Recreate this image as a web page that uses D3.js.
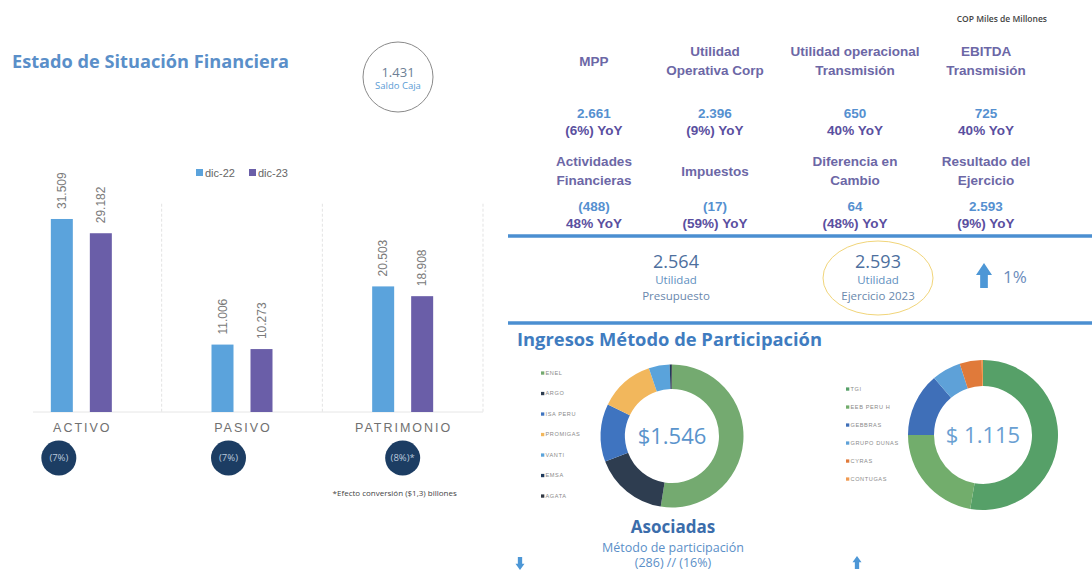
<!DOCTYPE html>
<html>
<head>
<meta charset="utf-8">
<script src="https://cdn.jsdelivr.net/npm/d3@7"></script>
<style>
  body { margin: 0; background: #fff; }
  svg { display: block; font-family: "Liberation Sans", Arial, sans-serif; }
  .mont { font-family: "Open Sans", "DejaVu Sans", sans-serif; }
</style>
</head>
<body>
<svg id="chart" width="1092" height="570"></svg>
<script>
// ── Data ──────────────────────────────────────────────────────
const categories = ['ACTIVO', 'PASIVO', 'PATRIMONIO'];
const seriesNames = ['dic-22', 'dic-23'];
const dic22 = [31509, 11006, 20503];
const dic23 = [29182, 10273, 18908];
const changeLabels = ['(7%)', '(7%)', '(8%)*'];
const saldoCaja = 1431;

const kpiTitles = [
  ['MPP'], ['Utilidad', 'Operativa Corp'], ['Utilidad operacional', 'Transmisión'], ['EBITDA', 'Transmisión'],
  ['Actividades', 'Financieras'], ['Impuestos'], ['Diferencia en', 'Cambio'], ['Resultado del', 'Ejercicio']
];
const kpiValues = [2661, 2396, 650, 725, -488, -17, 64, 2593];
const kpiYoY = [-6, -9, 40, 40, 48, -59, -48, -9];

const utilidadPresupuesto = 2564;
const utilidadEjercicio = 2593;

const asociadasNames = ['ENEL', 'ARGO', 'ISA PERU', 'PROMIGAS', 'VANTI', 'EMSA', 'AGATA'];
const asociadasValues = [812, 258, 202, 193, 73, 5, 3];
const controladasNames = ['TGI', 'EEB PERU H', 'GEBBRAS', 'GRUPO DUNAS', 'CYRAS', 'CONTUGAS'];
const controladasValues = [588, 248, 153, 70, 53, 3];

// ── Helpers ───────────────────────────────────────────────────
const es = d3.formatLocale({ decimal: ',', thousands: '.', grouping: [3], currency: ['$', ''] });
const fmt = es.format(',d');
const fmtSigned = v => v < 0 ? `(${fmt(-v)})` : fmt(v);
const fmtPct = v => v < 0 ? `(${-v}%)` : `${v}%`;

const svg = d3.select('#chart');

const SERIES_COLORS = { 'dic-22': '#5ba3dc', 'dic-23': '#6a5ea8' };
const TITLE_BLUE = '#5a8fc9';

function arrowPath(cx, y0, w, h, dir) {
  // dir = -1 up, 1 down; y0 = tip
  const head = h * 0.48, sw = w * 0.24;
  const s = dir;
  return `M${cx},${y0} L${cx + w / 2},${y0 - s * head} L${cx + sw},${y0 - s * head} ` +
    `L${cx + sw},${y0 - s * h} L${cx - sw},${y0 - s * h} L${cx - sw},${y0 - s * head} ` +
    `L${cx - w / 2},${y0 - s * head} Z`;
}

// ── Left: Estado de Situación Financiera ─────────────────────
svg.append('text').attr('class', 'mont')
  .attr('x', 12).attr('y', 68)
  .attr('fill', TITLE_BLUE).attr('font-size', 17).attr('font-weight', 700)
  .attr('textLength', 277).attr('lengthAdjust', 'spacingAndGlyphs')
  .text('Estado de Situación Financiera');

// saldo caja bubble
svg.append('circle').attr('cx', 398).attr('cy', 77).attr('r', 35)
  .attr('fill', 'none').attr('stroke', '#8a8a8a').attr('stroke-width', 1);
svg.append('text').attr('class', 'mont').attr('x', 398).attr('y', 77)
  .attr('text-anchor', 'middle').attr('fill', '#6d7f96').attr('font-size', 13)
  .text(fmt(saldoCaja));
svg.append('text').attr('class', 'mont').attr('x', 398).attr('y', 89)
  .attr('text-anchor', 'middle').attr('fill', '#5a9bd4').attr('font-size', 9.5)
  .text('Saldo Caja');

const x = d3.scaleBand().domain(categories).range([1, 483]);
const xSub = d3.scalePoint().domain(seriesNames).range([-19.5, 19.5]);
const y = d3.scaleLinear().domain([0, 35000]).range([412, 197.6]);
const barW = 22;

// separators + baseline
const chart = svg.append('g');
chart.selectAll('.sep').data(categories)
  .join('line')
  .attr('x1', d => x(d) + x.bandwidth()).attr('x2', d => x(d) + x.bandwidth())
  .attr('y1', y(34000)).attr('y2', y(0))
  .attr('stroke', '#e3e3e3').attr('stroke-width', 1).attr('stroke-dasharray', '3 2');
chart.append('line')
  .attr('x1', 33).attr('x2', x.range()[1]).attr('y1', y(0)).attr('y2', y(0))
  .attr('stroke', '#e6e6e6');

const barData = categories.flatMap((c, i) => [
  { cat: c, s: 'dic-22', v: dic22[i] },
  { cat: c, s: 'dic-23', v: dic23[i] }
]);
const cx = d => x(d.cat) + x.bandwidth() / 2 + xSub(d.s);

chart.selectAll('.bar').data(barData)
  .join('rect')
  .attr('x', d => cx(d) - barW / 2).attr('width', barW)
  .attr('y', d => y(d.v)).attr('height', d => y(0) - y(d.v))
  .attr('fill', d => SERIES_COLORS[d.s]);

chart.selectAll('.val').data(barData)
  .join('text')
  .attr('transform', d => `translate(${cx(d)},${y(d.v) - 10}) rotate(-90)`)
  .attr('dy', '0.35em')
  .attr('fill', '#7a7a7a').attr('font-size', 12)
  .text(d => fmt(d.v));

// legend
const leg = chart.append('g').attr('transform', 'translate(196,173)');
seriesNames.forEach((s, i) => {
  leg.append('rect').attr('x', i * 53).attr('y', -4).attr('width', 7).attr('height', 7)
    .attr('fill', SERIES_COLORS[s]);
  leg.append('text').attr('x', i * 53 + 9).attr('y', 4)
    .attr('fill', '#666').attr('font-size', 11).text(s);
});

// category labels
chart.selectAll('.cat').data(categories)
  .join('text')
  .attr('x', d => x(d) + x.bandwidth() / 2 + 1).attr('y', 432)
  .attr('text-anchor', 'middle').attr('fill', '#707070')
  .attr('font-size', 12.5).attr('letter-spacing', 2)
  .text(d => d);

// change badges
const badgeShift = [-22.5, -13.5, 0];
categories.forEach((c, i) => {
  const bx = x(c) + x.bandwidth() / 2 + badgeShift[i];
  chart.append('circle').attr('cx', bx).attr('cy', 458).attr('r', 17.5).attr('fill', '#1c3d63');
  chart.append('text').attr('class', 'mont').attr('x', bx).attr('y', 458).attr('dy', '0.35em')
    .attr('text-anchor', 'middle').attr('fill', '#b9c8dc').attr('font-size', 9.5)
    .text(changeLabels[i]);
});

svg.append('text').attr('class', 'mont')
  .attr('x', x('PATRIMONIO') + x.bandwidth() / 2 - 8).attr('y', 496)
  .attr('text-anchor', 'middle').attr('fill', '#444').attr('font-size', 8)
  .text('*Efecto conversión  ($1,3) billones');

// ── Right: KPI grid ──────────────────────────────────────────
svg.append('text').attr('class', 'mont')
  .attr('x', 1047).attr('y', 22).attr('text-anchor', 'end')
  .attr('fill', '#444').attr('font-size', 8.5).attr('font-weight', 600)
  .text('COP Miles de Millones');

const colX = d3.scaleOrdinal().domain([0, 1, 2, 3]).range([594, 715, 855, 986]);
const rowTitleY = [61, 171];
const rowValueY = [113, 206];

kpiTitles.forEach((lines, i) => {
  const col = i % 4, row = Math.floor(i / 4);
  const tx = colX(col);
  const t0 = rowTitleY[row] - (lines.length - 1) * 9.5;
  lines.forEach((ln, j) => {
    svg.append('text').attr('x', tx).attr('y', t0 + j * 19).attr('dy', '0.35em')
      .attr('text-anchor', 'middle').attr('fill', '#6c67a6')
      .attr('font-size', 13.5).attr('font-weight', 700).text(ln);
  });
  svg.append('text').attr('x', tx).attr('y', rowValueY[row]).attr('dy', '0.35em')
    .attr('text-anchor', 'middle').attr('fill', '#5590d0')
    .attr('font-size', 13.5).attr('font-weight', 700).text(fmtSigned(kpiValues[i]));
  svg.append('text').attr('x', tx).attr('y', rowValueY[row] + 17).attr('dy', '0.35em')
    .attr('text-anchor', 'middle').attr('fill', '#5a4fa0')
    .attr('font-size', 13.5).attr('font-weight', 700).text(`${fmtPct(kpiYoY[i])} YoY`);
});

// blue separator bars
[236, 323].forEach(ly => {
  svg.append('line').attr('x1', 508).attr('x2', 1092).attr('y1', ly).attr('y2', ly)
    .attr('stroke', '#4b8fd1').attr('stroke-width', 3.5);
});

// utilidad presupuesto vs ejercicio
const util = [
  { v: utilidadPresupuesto, l1: 'Utilidad', l2: 'Presupuesto', x: 676 },
  { v: utilidadEjercicio, l1: 'Utilidad', l2: 'Ejercicio 2023', x: 878 }
];
util.forEach(u => {
  svg.append('text').attr('class', 'mont').attr('x', u.x).attr('y', 262).attr('dy', '0.35em')
    .attr('text-anchor', 'middle').attr('fill', '#4d6f9e').attr('font-size', 18).text(fmt(u.v));
  svg.append('text').attr('class', 'mont').attr('x', u.x).attr('y', 280).attr('dy', '0.35em')
    .attr('text-anchor', 'middle').attr('fill', '#5f8fc0').attr('font-size', 11.5).text(u.l1);
  svg.append('text').attr('class', 'mont').attr('x', u.x).attr('y', 296).attr('dy', '0.35em')
    .attr('text-anchor', 'middle').attr('fill', '#6a88ad').attr('font-size', 11.5).text(u.l2);
});
svg.append('ellipse').attr('cx', 878).attr('cy', 278).attr('rx', 55).attr('ry', 37)
  .attr('fill', 'none').attr('stroke', '#f1d57a').attr('stroke-width', 1);

svg.append('path').attr('d', arrowPath(984, 263, 16, 25, -1)).attr('fill', '#4d97d6');
svg.append('text').attr('class', 'mont').attr('x', 1003).attr('y', 277).attr('dy', '0.35em')
  .attr('fill', '#6b8cbc').attr('font-size', 17)
  .text(`${Math.round((utilidadEjercicio / utilidadPresupuesto - 1) * 100)}%`);

svg.append('text').attr('class', 'mont')
  .attr('x', 517).attr('y', 346)
  .attr('fill', '#3f7cc0').attr('font-size', 17).attr('font-weight', 700)
  .attr('textLength', 305).attr('lengthAdjust', 'spacingAndGlyphs')
  .text('Ingresos Método de Participación');

// ── Donuts ───────────────────────────────────────────────────
const pie = d3.pie().sort(null).value(d => d.v);

function donut(opts) {
  const data = opts.names.map((n, i) => ({ n, v: opts.values[i] }));
  const color = d3.scaleOrdinal().domain(opts.names).range(opts.colors);
  const arc = d3.arc().innerRadius(opts.rIn).outerRadius(opts.rOut);
  const g = svg.append('g').attr('transform', `translate(${opts.cx},${opts.cy})`);
  g.selectAll('path').data(pie(data))
    .join('path').attr('d', arc).attr('fill', d => color(d.data.n));
  g.append('text').attr('class', 'mont').attr('dy', '0.35em')
    .attr('text-anchor', 'middle').attr('fill', opts.centerColor)
    .attr('font-size', 22).text(opts.centerLabel(d3.sum(opts.values)));

  const lg = svg.append('g').attr('transform', `translate(${opts.legX},${opts.legY})`);
  opts.names.forEach((n, i) => {
    lg.append('rect').attr('x', 0).attr('y', i * opts.legStep - 1.6)
      .attr('width', 3.3).attr('height', 3.3).attr('fill', color(n));
    lg.append('text').attr('x', 4.5).attr('y', i * opts.legStep).attr('dy', '0.35em')
      .attr('fill', '#8a8a8a').attr('font-size', 5.6).attr('letter-spacing', 0.6)
      .text(n);
  });
}

donut({
  names: asociadasNames, values: asociadasValues,
  colors: ['#74aa70', '#2e3d50', '#3f74c0', '#f2b75c', '#5aa3db', '#1f3b5c', '#333a44'],
  cx: 672, cy: 436, rOut: 71.5, rIn: 47,
  centerColor: '#5a94cc', centerLabel: s => `$${fmt(s)}`,
  legX: 541, legY: 373, legStep: 20.5
});

donut({
  names: controladasNames, values: controladasValues,
  colors: ['#56a068', '#72ad6c', '#3f6fb8', '#5ea1d8', '#e07a3a', '#f09a52'],
  cx: 983, cy: 435, rOut: 75, rIn: 49,
  centerColor: '#6aa0d2', centerLabel: s => `$ ${fmt(s)}`,
  legX: 846, legY: 389, legStep: 18
});

// Asociadas caption
svg.append('text').attr('class', 'mont').attr('x', 673).attr('y', 527).attr('dy', '0.35em')
  .attr('text-anchor', 'middle').attr('fill', '#3b6dab').attr('font-size', 17).attr('font-weight', 700)
  .text('Asociadas');
svg.append('text').attr('class', 'mont').attr('x', 673).attr('y', 548).attr('dy', '0.35em')
  .attr('text-anchor', 'middle').attr('fill', '#5b8fc8').attr('font-size', 12.5)
  .text('Método de participación');
svg.append('text').attr('class', 'mont').attr('x', 673).attr('y', 563).attr('dy', '0.35em')
  .attr('text-anchor', 'middle').attr('fill', '#5b8fc8').attr('font-size', 12.5)
  .text('(286) // (16%)');

svg.append('path').attr('d', arrowPath(520, 570, 9, 13, 1)).attr('fill', '#4d97d6');
svg.append('path').attr('d', arrowPath(857, 556, 9, 13, -1)).attr('fill', '#4d97d6');
</script>
</body>
</html>
